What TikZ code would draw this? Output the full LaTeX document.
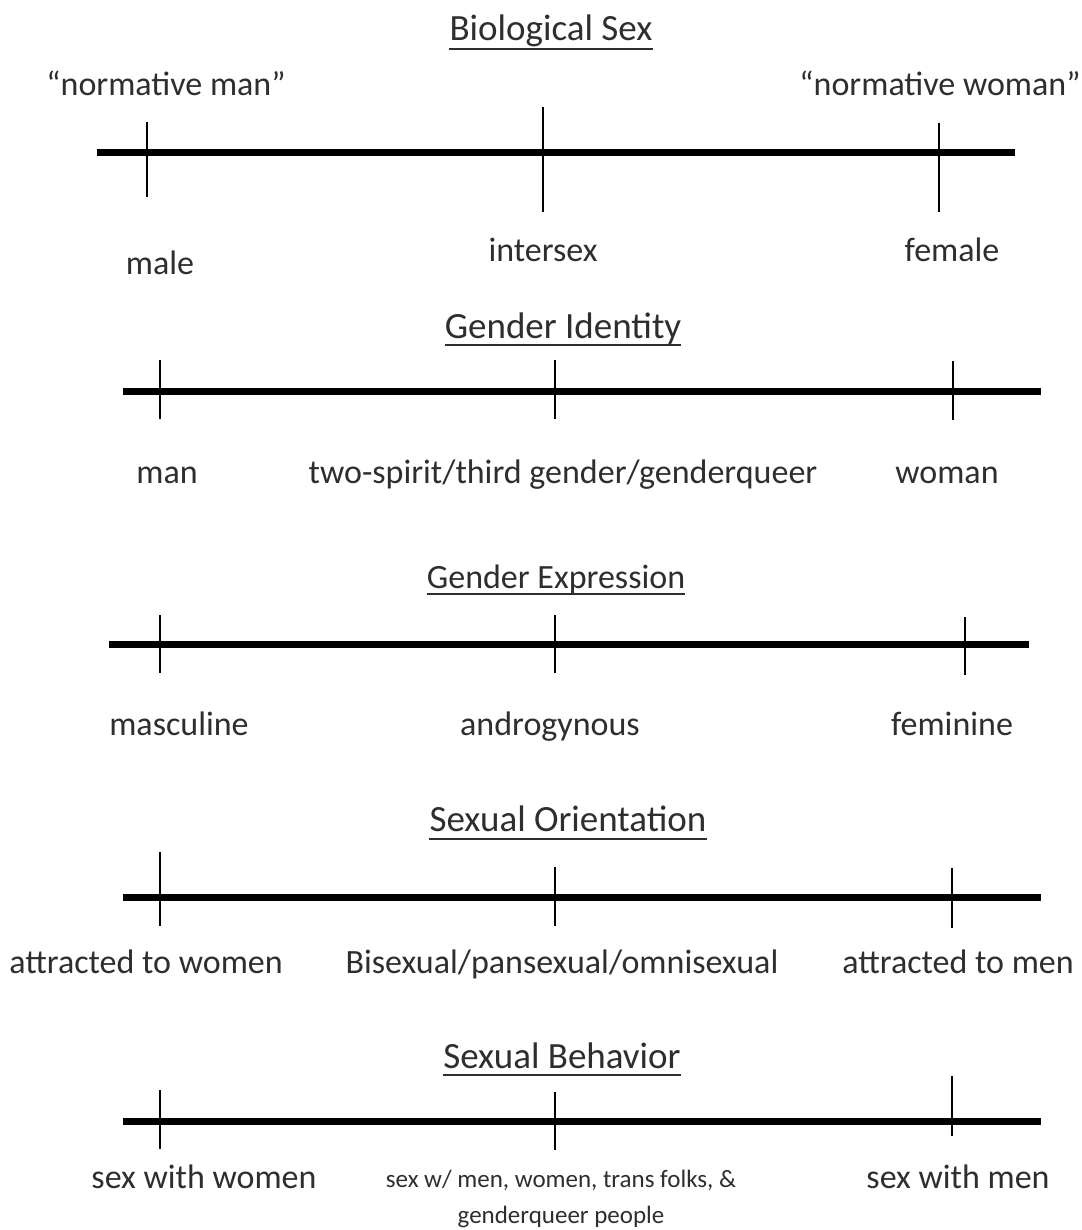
\documentclass[tikz,border=0pt]{standalone}
\usepackage{fontspec}
\setmainfont{Carlito}
\definecolor{txt}{rgb}{0.18,0.18,0.18}
\begin{document}
\begin{tikzpicture}[x=1pt,y=-1pt,
  axis/.style={line width=7pt, black},
  tickline/.style={line width=2.6pt, black},
  ttl/.style={font=\fontsize{37}{44}\selectfont, text=txt, anchor=base, inner sep=0pt},
  lbl/.style={font=\fontsize{34}{40}\selectfont, text=txt, anchor=base, inner sep=0pt},
  small/.style={font=\fontsize{25}{30}\selectfont, text=txt, anchor=base, inner sep=0pt},
  uline/.style={line width=2.4pt, txt}]
\useasboundingbox (0,0) rectangle (1081,1230);
\fill[white] (0,0) rectangle (1081,1230);

% ---------- Biological Sex ----------
\node[ttl] (t1) at (551,41) {Biological Sex};
\draw[uline] ([yshift=-8pt]t1.base west) -- ([yshift=-8pt]t1.base east);
\coordinate (a1l) at (97,153); \coordinate (a1r) at (1015,153);
\draw[axis] (a1l) -- (a1r);
\coordinate (k1at) at (147,122); \coordinate (k1ab) at (147,197);
\coordinate (k1bt) at (543,107); \coordinate (k1bb) at (543,212);
\coordinate (k1ct) at (939,123); \coordinate (k1cb) at (939,212);
\draw[tickline] (k1at) -- (k1ab);
\draw[tickline] (k1bt) -- (k1bb);
\draw[tickline] (k1ct) -- (k1cb);
\node[lbl] (n1a) at (166,96) {“normative man”};
\node[lbl] (n1b) at (940,96) {“normative woman”};
\node[lbl] (l1a) at (160,275) {male};
\node[lbl] (l1b) at (543,262) {intersex};
\node[lbl] (l1c) at (952,262) {female};

% ---------- Gender Identity ----------
\node[ttl] (t2) at (563,338) {Gender Identity};
\draw[uline] ([yshift=-7pt]t2.base west) -- ([yshift=-7pt]t2.base east);
\coordinate (a2l) at (123,391); \coordinate (a2r) at (1041,391);
\draw[axis] (a2l) -- (a2r);
\coordinate (k2at) at (160,360); \coordinate (k2ab) at (160,419);
\coordinate (k2bt) at (555,360); \coordinate (k2bb) at (555,419);
\coordinate (k2ct) at (953,361); \coordinate (k2cb) at (953,420);
\draw[tickline] (k2at) -- (k2ab);
\draw[tickline] (k2bt) -- (k2bb);
\draw[tickline] (k2ct) -- (k2cb);
\node[lbl] (l2a) at (167,483) {man};
\node[lbl] (l2b) at (563,483) {two-spirit/third gender/genderqueer};
\node[lbl] (l2c) at (947,483) {woman};

% ---------- Gender Expression ----------
\node[ttl, font=\fontsize{34}{40}\selectfont] (t3) at (556,588) {Gender Expression};
\draw[uline] ([yshift=-6pt]t3.base west) -- ([yshift=-6pt]t3.base east);
\coordinate (a3l) at (109,644); \coordinate (a3r) at (1029,644);
\draw[axis] (a3l) -- (a3r);
\coordinate (k3at) at (160,615); \coordinate (k3ab) at (160,673);
\coordinate (k3bt) at (555,615); \coordinate (k3bb) at (555,673);
\coordinate (k3ct) at (965,617); \coordinate (k3cb) at (965,675);
\draw[tickline] (k3at) -- (k3ab);
\draw[tickline] (k3bt) -- (k3bb);
\draw[tickline] (k3ct) -- (k3cb);
\node[lbl] (l3a) at (179,735) {masculine};
\node[lbl] (l3b) at (550,735) {androgynous};
\node[lbl] (l3c) at (952,735) {feminine};

% ---------- Sexual Orientation ----------
\node[ttl] (t4) at (568,831) {Sexual Orientation};
\draw[uline] ([yshift=-8pt]t4.base west) -- ([yshift=-8pt]t4.base east);
\coordinate (a4l) at (123,897); \coordinate (a4r) at (1041,897);
\draw[axis] (a4l) -- (a4r);
\coordinate (k4at) at (160,852); \coordinate (k4ab) at (160,926);
\coordinate (k4bt) at (555,867); \coordinate (k4bb) at (555,926);
\coordinate (k4ct) at (952,868); \coordinate (k4cb) at (952,928);
\draw[tickline] (k4at) -- (k4ab);
\draw[tickline] (k4bt) -- (k4bb);
\draw[tickline] (k4ct) -- (k4cb);
\node[lbl] (l4a) at (146,973) {attracted to women};
\node[lbl] (l4b) at (562,973) {Bisexual/pansexual/omnisexual};
\node[lbl] (l4c) at (958,973) {attracted to men};

% ---------- Sexual Behavior ----------
\node[ttl] (t5) at (562,1068) {Sexual Behavior};
\draw[uline] ([yshift=-7pt]t5.base west) -- ([yshift=-7pt]t5.base east);
\coordinate (a5l) at (123,1121); \coordinate (a5r) at (1041,1121);
\draw[axis] (a5l) -- (a5r);
\coordinate (k5at) at (160,1090); \coordinate (k5ab) at (160,1149);
\coordinate (k5bt) at (555,1092); \coordinate (k5bb) at (555,1150);
\coordinate (k5ct) at (952,1076); \coordinate (k5cb) at (952,1136);
\draw[tickline] (k5at) -- (k5ab);
\draw[tickline] (k5bt) -- (k5bb);
\draw[tickline] (k5ct) -- (k5cb);
\node[lbl] (l5a) at (204,1188) {sex with women};
\node[small] (l5b) at (561,1187) {sex w/ men, women, trans folks, \&};
\node[small] (l5b2) at (561,1223) {genderqueer people};
\node[lbl] (l5c) at (958,1188) {sex with men};
\end{tikzpicture}
\end{document}
